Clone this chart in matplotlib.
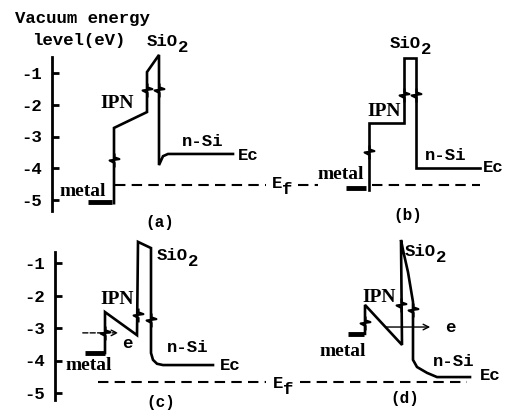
import matplotlib
matplotlib.use('Agg')
import matplotlib.pyplot as plt
from matplotlib.path import Path

W, H = 516, 416
plt.rcParams['axes.unicode_minus'] = False

# ---------------- data (x = position along device, E = energy in eV) -------------
yticks = [-1, -2, -3, -4, -5]
ytick_labels = ['-1', '-2', '-3', '-4', '-5']

# panel (a)
a_x = [114, 114, 147, 147, 159, 159, 163, 168, 233]
a_E = [-5.10, -2.73, -2.23, -0.97, -0.43, -3.90, -3.62, -3.55, -3.55]
a_sq_x = [114, 147, 159]
a_sq_E = [-3.74, -1.54, -1.54]
a_metal_x = [88, 112]
a_metal_E = [-5.07, -5.07]

# panel (b)
b_x = [369, 369, 404, 404, 416, 416, 480]
b_E = [-4.69, -2.57, -2.57, -0.53, -0.53, -3.99, -3.99]
b_sq_x = [369, 404, 416]
b_sq_E = [-3.49, -1.69, -1.69]
b_metal_x = [346, 366]
b_metal_E = [-4.62, -4.62]

# panel (c)
c_x = [105, 105, 137, 138, 151, 151, 153, 157, 163, 213]
c_E = [-3.77, -2.51, -3.22, -0.35, -0.54, -3.77, -3.98, -4.10, -4.14, -4.14]
c_sq_x = [105, 138, 151]
c_sq_E = [-3.15, -2.60, -2.75]
c_metal_x = [85, 105]
c_metal_E = [-3.77, -3.77]
c_e_x = [80, 121]
c_e_E = -3.15

# panel (d)
d_x = [365, 365, 402, 401, 403, 408, 413, 413, 417, 427, 437, 470]
d_E = [-3.18, -2.29, -3.52, -0.29, -0.60, -1.28, -2.20, -3.98, -4.20, -4.38, -4.51, -4.51]
d_sq_x = [365, 401, 413]
d_sq_E = [-2.85, -2.29, -2.45]
d_metal_x = [348, 364]
d_metal_E = [-3.18, -3.18]
d_e_x = [383, 433]
d_e_E = -2.97

# Fermi levels
Ef_top = -4.53
Ef_top_segs = [(115, 266), (298, 318), (372, 480)]
Ef_bot = -4.66
Ef_bot_segs = [(98, 266), (300, 467)]

# ---------------- figure ----------------
fig = plt.figure(figsize=(W / 100, H / 100), dpi=100)
fig.patch.set_facecolor('white')

MONO = 'Liberation Mono'
SERIF = 'Liberation Serif'


def make_axes(top_px, bot_px, p1, ppe, axis_x, bounds):
    ax = fig.add_axes([0, 1 - bot_px / H, 1, (bot_px - top_px) / H])
    ax.set_facecolor('none')
    ax.set_xlim(0, W)
    e_top = -1 + (p1 - top_px) / ppe
    e_bot = -1 - (bot_px - p1) / ppe
    ax.set_ylim(e_bot, e_top)
    for s in ['top', 'right', 'bottom']:
        ax.spines[s].set_visible(False)
    ax.spines['left'].set_position(('data', axis_x))
    ax.spines['left'].set_bounds(*bounds)
    ax.spines['left'].set_linewidth(2)
    ax.set_xticks([])
    ax.set_yticks(yticks)
    ax.set_yticklabels(ytick_labels)
    ax.tick_params(axis='y', direction='in', length=5, width=2, pad=7)
    for t in ax.get_yticklabels():
        t.set_fontfamily(MONO)
        t.set_fontweight('bold')
        t.set_fontsize(12.5)
    return ax


ax_top = make_axes(0, 230, 73, 31.75, 52, (-5.35, -0.5))
ax_bot = make_axes(230, 416, 263, 32.5, 55, (-5.2, -0.66))

sq = Path([(0, -1), (0, -0.35), (-0.7, 0.0), (0.7, 0.2), (0, 0.45), (0, 1)])


def band(ax, x, E, sx, sE, mx, mE):
    ax.plot(x, E, color='black', lw=1.9, solid_joinstyle='miter')
    ax.plot(sx, sE, ls='none', marker=sq, markersize=10, markeredgewidth=1.6,
            markeredgecolor='black', markerfacecolor='none')
    ax.plot(mx, mE, color='black', lw=3.5, solid_capstyle='butt')


band(ax_top, a_x, a_E, a_sq_x, a_sq_E, a_metal_x, a_metal_E)
band(ax_top, b_x, b_E, b_sq_x, b_sq_E, b_metal_x, b_metal_E)
band(ax_bot, c_x, c_E, c_sq_x, c_sq_E, c_metal_x, c_metal_E)
band(ax_bot, d_x, d_E, d_sq_x, d_sq_E, d_metal_x, d_metal_E)

for x0, x1 in Ef_top_segs:
    ax_top.plot([x0, x1], [Ef_top, Ef_top], color='black', lw=1.5, dashes=(5, 3))
for x0, x1 in Ef_bot_segs:
    ax_bot.plot([x0, x1], [Ef_bot, Ef_bot], color='black', lw=1.5, dashes=(5, 3))

ax_bot.annotate('', xy=(c_e_x[1], c_e_E), xytext=(c_e_x[0], c_e_E),
                arrowprops=dict(arrowstyle='->', lw=1.0, linestyle='--', color='black',
                                mutation_scale=10))
ax_bot.annotate('', xy=(d_e_x[1], d_e_E), xytext=(d_e_x[0], d_e_E),
                arrowprops=dict(arrowstyle='->', lw=1.0, color='black', mutation_scale=10))


def label(x, y, s, family=MONO, size=12.5, ha='left'):
    fig.text(x / W, 1 - y / H, s, ha=ha, va='center', family=family,
             fontweight='bold', fontsize=size, color='black')


def sub(x, y, main, subs, size=12.5):
    label(x, y, main, size=size)
    label(x + 10.4 * len(main), y + 6, subs, size=size)


label(15, 18, 'Vacuum energy')
label(32, 40, 'level(eV)')

# (a)
sub(147, 41, 'SiO', '2')
label(100, 103, 'IPN', family=SERIF, size=14)
label(182, 141, 'n-Si')
label(238, 155, 'Ec')
label(60, 191, 'metal', family=SERIF, size=14)
label(160, 222, '(a)', size=11.5, ha='center')
sub(272, 184, 'E', 'f')

# (b)
sub(390, 43, 'SiO', '2')
label(367, 112, 'IPN', family=SERIF, size=14)
label(425, 155, 'n-Si')
label(483, 167, 'Ec')
label(318, 175, 'metal', family=SERIF, size=14)
label(408, 215, '(b)', size=11.5, ha='center')

# (c)
sub(157, 256, 'SiO', '2')
label(100, 299, 'IPN', family=SERIF, size=14)
label(167, 347, 'n-Si')
label(220, 365, 'Ec')
label(65, 365, 'metal', family=SERIF, size=14)
label(122, 343, 'e')
label(161, 402, '(c)', size=11.5, ha='center')
sub(273, 383, 'E', 'f')

# (d)
sub(405, 252, 'SiO', '2')
label(362, 297, 'IPN', family=SERIF, size=14)
label(433, 361, 'n-Si')
label(480, 375, 'Ec')
label(320, 352, 'metal', family=SERIF, size=14)
label(445, 328, 'e')
label(405, 399, '(d)', size=11.5, ha='center')

fig.savefig('out.png', dpi=100, facecolor='white')
